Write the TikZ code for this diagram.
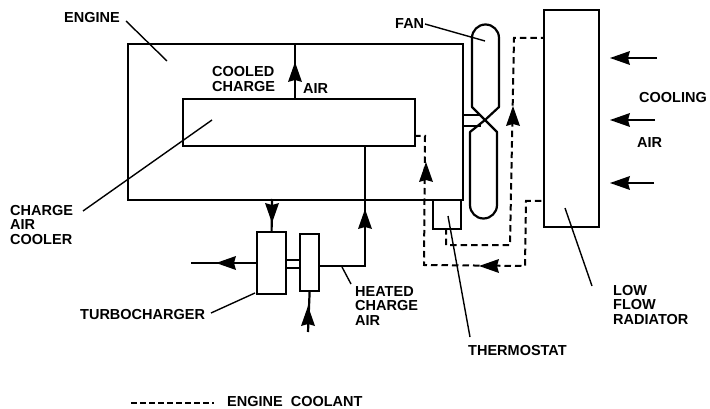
\documentclass[tikz,border=0pt]{standalone}
\usepackage{fontspec}
\setmainfont{Liberation Sans}
\tikzset{
 solidline/.style={line width=2.2pt},
 thinbox/.style={draw,line width=2.2pt,inner sep=0pt,anchor=north west},
 dashline/.style={line width=2pt,dash pattern=on 6.5pt off 4pt},
 leader/.style={line width=1.4pt},
 lbl/.style={font=\bfseries\fontsize{14.5}{14.5}\selectfont,align=left,inner sep=0pt,anchor=west},
 tip/.style={fill=black,draw=none},
}
\newcommand{\headup}[1]{\fill[tip] (#1) ++(0,-10) -- ++(7,20) -- ++(-7,-2) -- ++(-7,2) -- cycle;}
\newcommand{\headdown}[1]{\fill[tip] (#1) ++(0,10) -- ++(7,-20) -- ++(-7,2) -- ++(-7,-2) -- cycle;}
\newcommand{\headleft}[1]{\fill[tip] (#1) ++(-10,0) -- ++(20,7) -- ++(-2,-7) -- ++(2,-7) -- cycle;}
\begin{document}
\begin{tikzpicture}[x=1pt,y=-1pt]
\useasboundingbox (0,0) rectangle (710,409);
% boxes
\node[thinbox,minimum width=335pt,minimum height=156pt] (engine) at (127,43) {};
\node[thinbox,minimum width=232pt,minimum height=47pt,fill=white] (cooler) at (182,98) {};
\node[thinbox,minimum width=55pt,minimum height=217pt] (radiator) at (543,9) {};
\node[thinbox,minimum width=28pt,minimum height=29pt] (thermo) at (432,199) {};
\node[thinbox,minimum width=29pt,minimum height=62pt] (turboA) at (256,231) {};
\node[thinbox,minimum width=19pt,minimum height=57pt] (turboB) at (299,233) {};
% fan
\coordinate (fanc) at (485,120);
\draw[solidline,line join=round] (fanc) -- (472,107) -- (472,38) arc (180:360:13.5) -- (499,107) -- (fanc) -- (497,132) -- (497,205) arc (0:180:13.5) -- (470,132) -- cycle;
\draw[solidline] (462,115) -- (481,115);
\draw[solidline] (462,126) -- (481,126);
% charge air
\coordinate (coolA) at (295,98);
\coordinate (coolB) at (295,43);
\draw[solidline] (coolA) -- (coolB);
\headup{295,72}
\coordinate (hot1) at (318,266);
\coordinate (hot2) at (365,266);
\draw[solidline] (turboB.east |- hot1) -- (hot2) -- (cooler.south -| hot2);
\headup{365,219}
\draw[solidline] (272,199) -- (turboA.north);
\headdown{272,213}
\coordinate (exh) at (191,263);
\draw[solidline] (turboA.west |- exh) -- (exh);
\headleft{226,263}
\coordinate (inl) at (308,332);
\draw[solidline] (turboB.south) -- (inl);
\headup{308,316}
\draw[solidline] (285,260) -- (299,260);
\draw[solidline] (285,268) -- (299,268);
% coolant
\coordinate (d1) at (425,136);
\coordinate (d2) at (424,265);
\coordinate (d3) at (525,266);
\coordinate (d4) at (526,201);
\draw[dashline] (414,136) -- (d1) -- (d2) -- (d3) -- (d4) -- (radiator.west |- d4);
\coordinate (e1) at (446,245);
\coordinate (e2) at (510,245);
\coordinate (e3) at (514,38);
\draw[dashline] (446,228) -- (e1) -- (e2) -- (e3) -- (radiator.west |- e3);
\headup{426,172}
\headup{513,116}
\headleft{489,266}
% cooling air
\foreach \yy/\nm/\ee in {58/a/657,120/b/655,183/c/654}{
 \coordinate (air\nm) at (\ee,\yy);
 \draw[solidline] (air\nm) -- (625,\yy);
 \headleft{620,\yy}
}
% labels
\node[lbl] (lengine) at (64,18) {ENGINE};
\node[lbl] (lfan) at (395,24) {FAN};
\node[lbl] (lcooled) at (212,79) {COOLED\\CHARGE};
\node[lbl] (lair) at (303,89) {AIR};
\node[lbl] (lcac) at (10,225) {CHARGE\\AIR\\COOLER};
\node[lbl] (lturbo) at (80,315) {TURBOCHARGER};
\node[lbl] (lheat) at (355,306) {HEATED\\CHARGE\\AIR};
\node[lbl] (lthermo) at (468,351) {THERMOSTAT};
\node[lbl] (lrad) at (613,305) {LOW\\FLOW\\RADIATOR};
\node[lbl] (lcool) at (639,98) {COOLING};
\node[lbl] (lair2) at (637,143) {AIR};
\node[lbl] (lcoolant) at (227,401.5) {ENGINE\ \ COOLANT};
% leaders
\coordinate (qe) at (126,21);
\coordinate (pe) at (167,61);
\draw[leader] (qe) -- (pe);
\coordinate (qf) at (425,24);
\coordinate (pf) at (485,41);
\draw[leader] (qf) -- (pf);
\coordinate (pc) at (212,120);
\coordinate (qc) at (83,211);
\draw[leader] (qc) -- (pc);
\coordinate (pt) at (255,293);
\coordinate (qt) at (211,313);
\draw[leader] (pt) -- (qt);
\coordinate (ph) at (342,267);
\coordinate (qh) at (351,284);
\draw[leader] (ph) -- (qh);
\coordinate (pth) at (448,216);
\coordinate (qth) at (470,337);
\draw[leader] (pth) -- (qth);
\coordinate (pr) at (565,208);
\coordinate (qr) at (592,286);
\draw[leader] (pr) -- (qr);
\coordinate (ls) at (131,403);
\coordinate (le) at (214,403);
\draw[line width=1.5pt,dash pattern=on 6pt off 3pt] (ls) -- (le);
\end{tikzpicture}
\end{document}
